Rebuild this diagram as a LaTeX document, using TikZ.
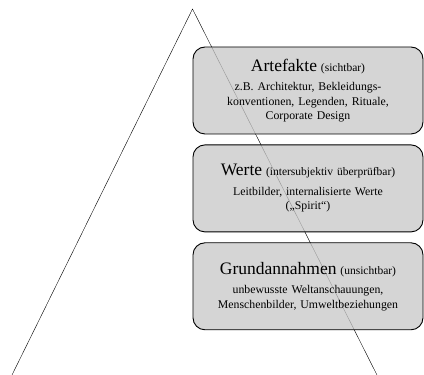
\documentclass[tikz,border=0pt]{standalone}
\usepackage{fontspec}
\setmainfont{Liberation Serif}
\usetikzlibrary{positioning}

\newcommand{\layertitle}[2]{{\fontsize{17.5}{20}\selectfont #1} {\fontsize{11.5}{14}\selectfont (#2)}}

\begin{document}
\begin{tikzpicture}[x=1pt,y=1pt,thin,
    layer node/.style={draw=black,line width=0.9pt,rounded corners=12pt,fill=black!22,fill opacity=0.75,text opacity=1,
      minimum width=230pt,minimum height=87pt,text width=226pt,align=center,inner sep=2pt,
      font=\fontsize{11.8}{14.5}\selectfont}]

  \useasboundingbox (0,0) rectangle (424,375);

  \coordinate (apex) at (192.5,366);
  \coordinate (left) at (12,0);
  \coordinate (right) at (377,0);
  \draw (left) -- (apex) -- (right);

  \node[layer node] (artefakte) at (308,284.5) {\layertitle{Artefakte}{sichtbar}\\[5pt]
    z.B. Architektur, Bekleidungs-\\konventionen, Legenden, Rituale,\\Corporate Design};
  \node[layer node] (werte) [below=10pt of artefakte] {\layertitle{Werte}{intersubjektiv überprüfbar}\\[5pt]
    Leitbilder, internalisierte Werte\\(„Spirit“)};
  \node[layer node] (annahmen) [below=10pt of werte] {\layertitle{Grundannahmen}{unsichtbar}\\[5pt]
    unbewusste Weltanschauungen,\\Menschenbilder, Umweltbeziehungen};

\end{tikzpicture}
\end{document}
